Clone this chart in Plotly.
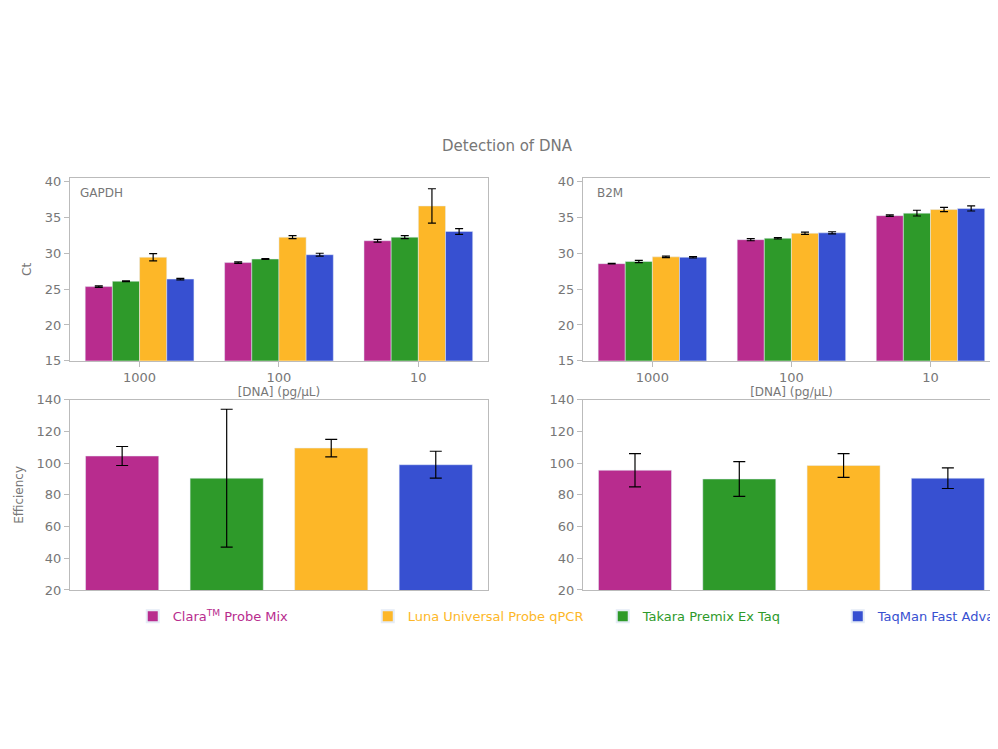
import plotly.graph_objects as go

# series: Clara, Takara, Luna, TaqMan (bar order)
names = ["Clara<sup>TM</sup> Probe Mix", "Takara Premix Ex Taq", "Luna Universal Probe qPCR", "TaqMan Fast Advanced"]
colors = ["#B82C8E", "#2E9A2A", "#FDB728", "#3750D1"]
legend_rank = [1, 3, 2, 4]
conc = ["1000", "100", "10"]

gapdh_ct = [[25.35, 28.7, 31.75], [26.1, 29.2, 32.25], [29.45, 32.25, 36.6], [26.4, 29.8, 33.05]]
gapdh_err = [[0.1, 0.1, 0.2], [0.05, 0.05, 0.2], [0.5, 0.2, 2.4], [0.1, 0.2, 0.4]]
b2m_ct = [[28.55, 31.9, 35.25], [28.85, 32.1, 35.6], [29.5, 32.8, 36.1], [29.45, 32.85, 36.25]]
b2m_err = [[0.05, 0.15, 0.1], [0.15, 0.1, 0.4], [0.1, 0.15, 0.3], [0.1, 0.15, 0.35]]
gapdh_eff = [104.5, 90.5, 109.5, 99]
gapdh_eff_err = [6, 43.5, 5.5, 8.5]
b2m_eff = [95.5, 90, 98.5, 90.5]
b2m_eff_err = [10.5, 11, 7.5, 6.5]

fig = go.Figure()
err_style = dict(type="data", color="black", thickness=1.2, width=4)

for i in range(4):
    label = f"<span style='color:{colors[i]}'>{names[i]}</span>"
    fig.add_trace(go.Bar(x=conc, y=gapdh_ct[i], error_y=dict(array=gapdh_err[i], **err_style),
                         marker_color=colors[i], name=label, legendrank=legend_rank[i],
                         legendgroup=names[i], xaxis="x", yaxis="y"))
    fig.add_trace(go.Bar(x=conc, y=b2m_ct[i], error_y=dict(array=b2m_err[i], **err_style),
                         marker_color=colors[i], showlegend=False, legendgroup=names[i],
                         xaxis="x2", yaxis="y2"))
    fig.add_trace(go.Bar(x=[names[i]], y=[gapdh_eff[i]],
                         error_y=dict(array=[gapdh_eff_err[i]], type="data", color="black", thickness=1.2, width=6),
                         marker_color=colors[i], showlegend=False, width=0.7,
                         xaxis="x3", yaxis="y3"))
    fig.add_trace(go.Bar(x=[names[i]], y=[b2m_eff[i]],
                         error_y=dict(array=[b2m_eff_err[i]], type="data", color="black", thickness=1.2, width=6),
                         marker_color=colors[i], showlegend=False, width=0.7,
                         xaxis="x4", yaxis="y4"))

ax = dict(showline=True, linecolor="#bbb", mirror=True, ticks="outside", tickcolor="#bbb",
          tickfont=dict(color="#777", size=13), showgrid=False, zeroline=False, automargin=False)
ax_nt = {k: v for k, v in ax.items() if k != "ticks"}
gray = dict(color="#777", size=12)

fig.update_layout(
    width=998, height=749, plot_bgcolor="white", paper_bgcolor="white",
    font=dict(family="DejaVu Sans", color="#777"),
    margin=dict(l=0, r=0, t=0, b=0, autoexpand=False),
    barmode="group", bargap=0.22, bargroupgap=0,
    title=dict(text="Detection of DNA", x=0.5, y=0.816, xanchor="center", yanchor="middle",
               font=dict(size=15, color="#777")),
    xaxis=dict(domain=[0.062, 0.481], anchor="y", title=dict(text="[DNA] (pg/µL)", font=gray, standoff=2), **ax),
    yaxis=dict(domain=[0.529, 0.773], anchor="x", range=[15, 40.5], dtick=5,
               title=dict(text="Ct", font=gray, standoff=10), **ax),
    xaxis2=dict(domain=[0.576, 0.994], anchor="y2", title=dict(text="[DNA] (pg/µL)", font=gray, standoff=2), **ax),
    yaxis2=dict(domain=[0.529, 0.773], anchor="x2", range=[15, 40.5], dtick=5, **ax),
    xaxis3=dict(domain=[0.062, 0.481], anchor="y3", showticklabels=False, ticks="", **ax_nt),
    yaxis3=dict(domain=[0.223, 0.477], anchor="x3", range=[20, 140], dtick=20,
                title=dict(text="Efficiency", font=gray, standoff=10), **ax),
    xaxis4=dict(domain=[0.576, 0.994], anchor="y4", showticklabels=False, ticks="", **ax_nt),
    yaxis4=dict(domain=[0.223, 0.477], anchor="x4", range=[20, 140], dtick=20, **ax),
    legend=dict(orientation="h", x=0.125, xanchor="left", y=0.188, yanchor="middle",
                font=dict(size=13), itemwidth=30, entrywidth=190, itemsizing="constant"),
    showlegend=True,
    annotations=[
        dict(text="GAPDH", x=0.02, y=0.97, xref="x domain", yref="y domain", xanchor="left",
             yanchor="top", showarrow=False, font=gray),
        dict(text="B2M", x=0.03, y=0.97, xref="x2 domain", yref="y2 domain", xanchor="left",
             yanchor="top", showarrow=False, font=gray),
    ],
)

fig.write_html("out.html")
